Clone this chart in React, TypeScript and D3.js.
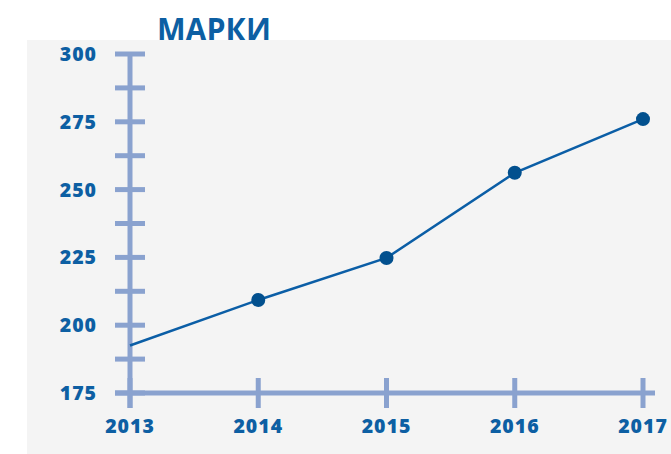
import React from "react";
import * as d3 from "d3";

const years = [2013, 2014, 2015, 2016, 2017];
const values = [192.5, 209.3, 224.8, 256.2, 276];
const showDot = [false, true, true, true, true];
const yTicks = [175, 200, 225, 250, 275, 300];
const yMinorTicks = [187.5, 212.5, 237.5, 262.5, 287.5];
const title = "МАРКИ";

const W = 671;
const H = 454;
const axisColor = "#8aa2cf";
const textColor = "#0d5fa3";
const lineColor = "#0b5ea6";
const dotColor = "#02508e";
const font = "'Open Sans', sans-serif";

export default function App() {
  const x = d3.scaleLinear().domain([2013, 2017]).range([130, 643]);
  const y = d3.scaleLinear().domain([175, 300]).range([393, 54]);
  const line = d3
    .line<number>()
    .x((_, i) => x(years[i]))
    .y((d) => y(d));
  const allY = [...yTicks, ...yMinorTicks];
  return (
    <svg
      width={W}
      height={H}
      style={{ position: "absolute", left: 0, top: 0, display: "block" }}
    >
      <rect x={0} y={0} width={W} height={H} fill="#ffffff" />
      <text
        x={157}
        y={41}
        fill={textColor}
        fontFamily={font}
        fontWeight={700}
        fontSize={33}
        textLength={114}
        lengthAdjust="spacingAndGlyphs"
      >
        {title}
      </text>
      <rect x={27} y={40} width={W - 27} height={H - 40} fill="#f4f4f4" />
      {/* y axis */}
      <line x1={x(2013)} x2={x(2013)} y1={52} y2={408} stroke={axisColor} strokeWidth={5} />
      {allY.map((t) => (
        <line
          key={"yt" + t}
          x1={115}
          x2={145}
          y1={y(t)}
          y2={y(t)}
          stroke={axisColor}
          strokeWidth={5}
        />
      ))}
      {/* x axis */}
      <line x1={115} x2={655} y1={y(175)} y2={y(175)} stroke={axisColor} strokeWidth={5} />
      {years.map((yr) => (
        <line
          key={"xt" + yr}
          x1={x(yr)}
          x2={x(yr)}
          y1={378}
          y2={408}
          stroke={axisColor}
          strokeWidth={5}
        />
      ))}
      {yTicks.map((t) => (
        <text
          key={"yl" + t}
          x={97}
          y={y(t)}
          dy="0.36em"
          textAnchor="end"
          fill={textColor}
          fontFamily={font}
          fontWeight={800}
          fontSize={19.5}
          letterSpacing={1}
        >
          {t}
        </text>
      ))}
      {years.map((yr) => (
        <text
          key={"xl" + yr}
          x={x(yr)}
          y={433}
          textAnchor="middle"
          fill={textColor}
          fontFamily={font}
          fontWeight={800}
          fontSize={19.5}
          letterSpacing={1}
        >
          {yr}
        </text>
      ))}
      <path
        d={line(values) || ""}
        fill="none"
        stroke={lineColor}
        strokeWidth={2.5}
      />
      {values.map((v, i) =>
        showDot[i] ? (
          <circle key={"d" + i} cx={x(years[i])} cy={y(v)} r={7} fill={dotColor} />
        ) : null
      )}
    </svg>
  );
}
